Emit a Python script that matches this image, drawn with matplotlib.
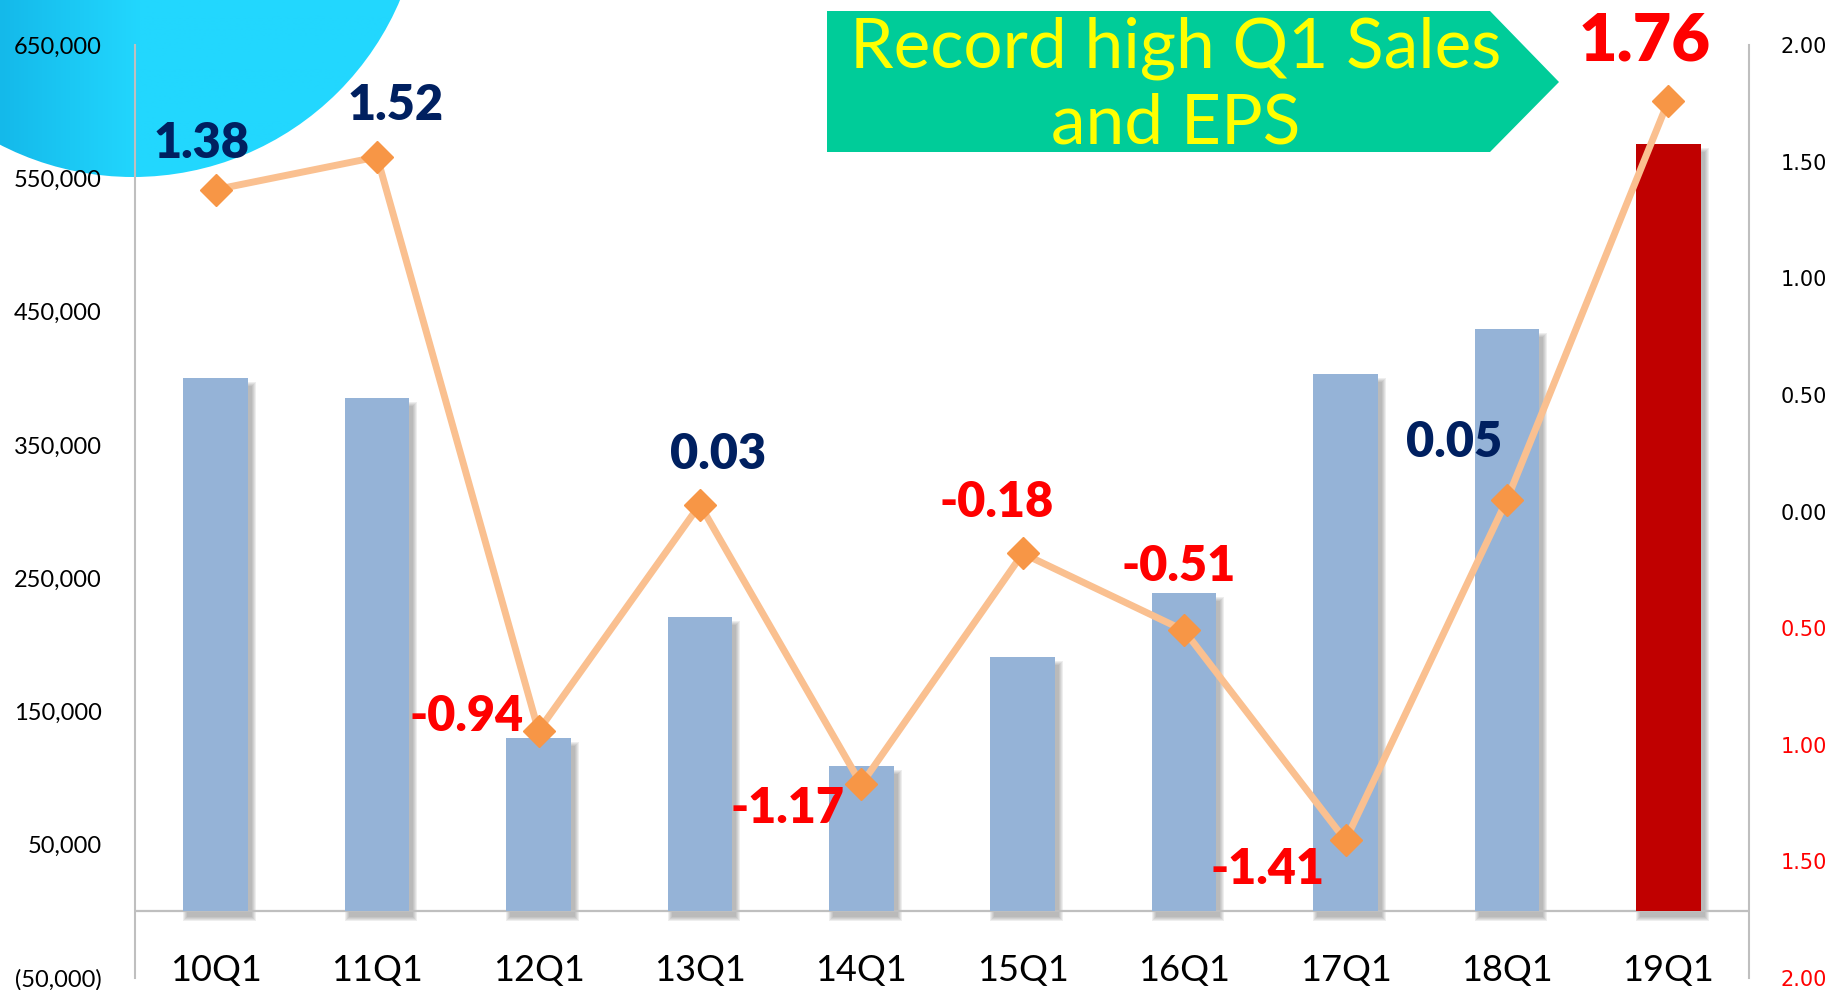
import numpy as np
import matplotlib.pyplot as plt
from matplotlib.patches import Circle, Polygon, Rectangle
from matplotlib.colors import to_rgb

plt.rcParams['font.family'] = ['Lato', 'DejaVu Sans']

quarters = ['10Q1', '11Q1', '12Q1', '13Q1', '14Q1', '15Q1', '16Q1', '17Q1', '18Q1', '19Q1']
sales = [400000, 385000, 130000, 221000, 109000, 191000, 239000, 403000, 437000, 576000]
eps = [1.38, 1.52, -0.94, 0.03, -1.17, -0.18, -0.51, -1.41, 0.05, 1.76]
sales_ticks = [-50000, 50000, 150000, 250000, 350000, 450000, 550000, 650000]
eps_ticks = [-2.0, -1.5, -1.0, -0.5, 0.0, 0.5, 1.0, 1.5, 2.0]
banner_lines = ['Record high Q1 Sales', 'and EPS']

# where each eps number sits relative to its marker (points)
label_offsets = [(-10, 33), (13, 37), (-52, 10), (13, 36), (-53, -17),
                 (-19, 37), (-4, 46), (-56, -21), (-38, 41), (-17, 43)]

W, H = 1843, 990
fig = plt.figure(figsize=(W / 100, H / 100), dpi=100)

# background layer in pixel coords (cyan circle top-left)
bg = fig.add_axes([0, 0, 1, 1], zorder=-1)
bg.set_xlim(0, W)
bg.set_ylim(H, 0)
bg.axis('off')
circ = Circle((133, -113), 290, facecolor='none', edgecolor='none')
bg.add_patch(circ)
c0 = np.array(to_rgb('#14b9ea'))
c1 = np.array(to_rgb('#22d7fe'))
t = np.clip(np.linspace(0, 430, 431) / 140.0, 0, 1)
grad = (c0[None, :] * (1 - t[:, None]) + c1[None, :] * t[:, None])[None, :, :]
grad = np.repeat(grad, 4, axis=0)
im = bg.imshow(grad, extent=(0, 430, 200, -10), aspect='auto', interpolation='bilinear')
im.set_clip_path(circ)
bg.set_xlim(0, W)
bg.set_ylim(H, 0)

# main chart
ax = fig.add_axes([135 / W, 1 - 978 / H, (1749 - 135) / W, (978 - 45) / H])
ax.patch.set_visible(False)
x = np.arange(len(quarters))
ax.set_xlim(-0.5, 9.5)
ax.set_ylim(-50000, 650000)

px_x = 10 / 1614.0
px_y = 700000 / 933.0
bw = 0.4
# soft drop shadow behind the bars
for grow in [8, 6, 4, 2, 0]:
    for xi, v in zip(x, sales):
        ax.add_patch(Rectangle((xi - bw / 2 + 4 * px_x - grow * px_x / 2, -6 * px_y - grow * px_y / 2),
                               bw + grow * px_x, v - 2 * px_y + grow * px_y,
                               facecolor='#666666', edgecolor='none', alpha=0.11, zorder=1))
bar_colors = ['#95b3d7'] * (len(quarters) - 1) + ['#c00000']
ax.bar(x, sales, width=bw, color=bar_colors, zorder=3)
ax.axhline(0, color='#bfbfbf', lw=1.6, zorder=2)

for s in ['top', 'bottom', 'right']:
    ax.spines[s].set_visible(False)
ax.spines['left'].set_color('#bfbfbf')
ax.spines['left'].set_linewidth(1.5)

ax.set_yticks(sales_ticks, labels=[f'{v:,}' if v >= 0 else f'({-v:,})' for v in sales_ticks])
ax.tick_params(axis='y', length=0, pad=24, labelsize=17)
ax.set_xticks(x, quarters)
ax.tick_params(axis='x', length=0, pad=-17, labelsize=26)

# eps line on secondary axis
ax2 = ax.twinx()
ax2.set_ylim(-2, 2)
ax2.plot(x, eps, color='#fac090', lw=5, zorder=2, solid_capstyle='round')
ax2.plot(x, eps, linestyle='none', marker='D', ms=16.5, color='#f79646', zorder=3)
for s in ['top', 'bottom', 'left']:
    ax2.spines[s].set_visible(False)
ax2.spines['right'].set_color('#bfbfbf')
ax2.spines['right'].set_linewidth(1.5)
ax2.set_yticks(eps_ticks, labels=[f'{abs(v):.2f}' for v in eps_ticks])
ax2.tick_params(axis='y', length=0, pad=23, labelsize=15)
for lab, v in zip(ax2.get_yticklabels(), eps_ticks):
    lab.set_fontfamily('DejaVu Sans')
    lab.set_color('red' if v < 0 else 'black')

for i, (v, off) in enumerate(zip(eps, label_offsets)):
    last = i == len(eps) - 1
    ax2.annotate(f'{v:.2f}', (x[i], v), xytext=off, textcoords='offset points',
                 ha='center', va='center', fontweight='heavy',
                 fontsize=48 if last else 35,
                 color='#ff0000' if (v < 0 or last) else '#002060', zorder=5)

# green arrow banner on top
top = fig.add_axes([0, 0, 1, 1], zorder=5)
top.set_xlim(0, W)
top.set_ylim(H, 0)
top.axis('off')
top.add_patch(Polygon([(827, 11), (1490, 11), (1559, 82), (1490, 152), (827, 152)],
                      closed=True, facecolor='#00cc99', edgecolor='none'))
top.text(1176, 67, banner_lines[0], ha='center', va='baseline', fontsize=50, color='#ffff00')
top.text(1176, 144, banner_lines[1], ha='center', va='baseline', fontsize=50, color='#ffff00')

fig.savefig('out.png', dpi=100)
